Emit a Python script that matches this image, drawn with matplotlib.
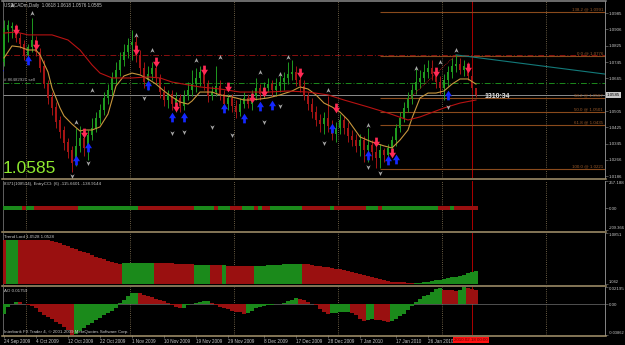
import numpy as np
import matplotlib
matplotlib.use("Agg")
import matplotlib.pyplot as plt
from matplotlib.path import Path
from matplotlib.lines import Line2D

plt.rcParams["font.family"] = ["Liberation Sans", "DejaVu Sans"]

# ---------------- data (prices in pips, 0.0001) ----------------
opens = [10745, 10902, 10912, 10922, 10863, 10833, 10780, 10819, 10853, 10794,
         10726, 10637, 10574, 10525, 10461, 10412, 10353, 10314, 10255, 10334,
         10373, 10324, 10388, 10422, 10471, 10510, 10569, 10608, 10667, 10706,
         10755, 10794, 10829, 10843, 10780, 10716, 10657, 10686, 10716, 10667,
         10598, 10559, 10588, 10539, 10569, 10530, 10579, 10608, 10637, 10667,
         10696, 10637, 10579, 10598, 10628, 10588, 10539, 10569, 10530, 10500,
         10539, 10569, 10539, 10579, 10618, 10588, 10618, 10637, 10608, 10628,
         10647, 10667, 10686, 10696, 10657, 10628, 10579, 10539, 10500, 10461,
         10441, 10471, 10431, 10392, 10422, 10461, 10422, 10383, 10363, 10334,
         10363, 10314, 10339, 10304, 10275, 10314, 10290, 10324, 10363, 10422,
         10471, 10520, 10569, 10608, 10647, 10667, 10696, 10716, 10686, 10647,
         10618, 10657, 10696, 10726, 10735, 10706, 10726, 10677, 10618]
highs = [10951, 10951, 10941, 10931, 10887, 10853, 10833, 10961, 10873, 10814,
         10755, 10657, 10598, 10549, 10481, 10431, 10373, 10334, 10422, 10431,
         10402, 10412, 10471, 10500, 10539, 10598, 10637, 10696, 10745, 10794,
         10833, 10863, 10902, 10873, 10804, 10745, 10726, 10745, 10735, 10686,
         10628, 10608, 10608, 10598, 10588, 10608, 10647, 10706, 10716, 10726,
         10716, 10657, 10628, 10726, 10657, 10608, 10588, 10588, 10559, 10569,
         10598, 10588, 10608, 10667, 10637, 10647, 10667, 10657, 10667, 10686,
         10696, 10745, 10755, 10726, 10677, 10657, 10598, 10569, 10530, 10490,
         10500, 10579, 10461, 10451, 10490, 10481, 10451, 10412, 10392, 10392,
         10383, 10422, 10363, 10334, 10343, 10324, 10343, 10383, 10441, 10500,
         10549, 10598, 10637, 10716, 10706, 10735, 10755, 10755, 10706, 10677,
         10686, 10726, 10765, 10780, 10765, 10755, 10745, 10706, 10618]
lows = [10726, 10843, 10863, 10843, 10814, 10755, 10745, 10794, 10775, 10696,
        10618, 10539, 10486, 10422, 10373, 10314, 10275, 10206, 10236, 10304,
        10285, 10265, 10363, 10402, 10441, 10486, 10539, 10579, 10637, 10677,
        10726, 10765, 10755, 10745, 10686, 10618, 10608, 10657, 10637, 10569,
        10530, 10520, 10510, 10500, 10500, 10510, 10559, 10579, 10598, 10628,
        10608, 10549, 10559, 10579, 10559, 10520, 10510, 10500, 10471, 10481,
        10520, 10520, 10510, 10559, 10559, 10569, 10598, 10579, 10579, 10598,
        10608, 10637, 10657, 10628, 10598, 10559, 10510, 10471, 10431, 10402,
        10392, 10402, 10363, 10353, 10392, 10392, 10353, 10334, 10304, 10285,
        10255, 10255, 10265, 10226, 10226, 10255, 10265, 10285, 10334, 10402,
        10451, 10500, 10539, 10588, 10618, 10647, 10667, 10657, 10618, 10588,
        10559, 10628, 10667, 10696, 10686, 10677, 10657, 10608, 10576]
closes = [10912, 10926, 10922, 10863, 10833, 10775, 10819, 10853, 10794, 10716,
          10637, 10569, 10520, 10451, 10402, 10348, 10304, 10250, 10334, 10373,
          10324, 10388, 10422, 10471, 10510, 10569, 10608, 10667, 10706, 10755,
          10794, 10829, 10843, 10780, 10716, 10647, 10686, 10716, 10667, 10598,
          10559, 10588, 10539, 10569, 10530, 10579, 10608, 10637, 10667, 10696,
          10637, 10579, 10598, 10628, 10588, 10539, 10569, 10530, 10500, 10539,
          10569, 10539, 10579, 10618, 10588, 10618, 10637, 10608, 10628, 10647,
          10667, 10686, 10696, 10657, 10628, 10579, 10539, 10500, 10461, 10441,
          10471, 10431, 10392, 10422, 10461, 10422, 10383, 10363, 10334, 10363,
          10314, 10339, 10304, 10275, 10314, 10290, 10324, 10363, 10422, 10471,
          10520, 10569, 10608, 10647, 10667, 10696, 10716, 10686, 10647, 10618,
          10657, 10696, 10726, 10735, 10706, 10726, 10677, 10618, 10585]

# moving averages (bar, pips)
fast_ma_bar = [0, 2, 4, 6, 8, 9, 11, 12, 14, 15, 17, 19, 20, 22, 24, 26, 28, 30, 32, 34,
               36, 38, 40, 42, 44, 46, 47, 49, 52, 54, 57, 60, 62, 66, 69, 72, 74, 76,
               78, 80, 82, 84, 86, 89, 92, 95, 97, 99, 101, 102, 104, 106, 108, 110,
               112, 114, 116, 118]
fast_ma = [10765, 10824, 10819, 10804, 10804, 10780, 10696, 10618, 10520, 10481, 10441,
           10407, 10412, 10412, 10427, 10490, 10628, 10677, 10691, 10682, 10662, 10637,
           10603, 10574, 10549, 10539, 10554, 10598, 10598, 10584, 10574, 10559, 10559,
           10569, 10584, 10603, 10623, 10613, 10584, 10544, 10525, 10500, 10461, 10378,
           10353, 10334, 10324, 10363, 10412, 10470, 10569, 10593, 10593, 10603, 10637,
           10662, 10662, 10637]
slow_ma_bar = [0, 3, 6, 12, 16, 19, 22, 24, 27, 32, 36, 39, 42, 46, 49, 54, 59, 66, 71,
               76, 81, 85, 91, 96, 101, 104, 110, 114, 118]
slow_ma = [10887, 10892, 10878, 10878, 10853, 10804, 10731, 10691, 10667, 10667, 10672,
           10667, 10647, 10633, 10623, 10613, 10598, 10598, 10603, 10598, 10584, 10559,
           10525, 10495, 10461, 10476, 10520, 10544, 10559]

# signal arrows and fractal marks (bar, pips)
sell_bar = [3, 8, 20, 33, 38, 43, 50, 56, 62, 65, 74, 83, 93, 97, 108, 116]
sell_px = [10902, 10829, 10397, 10804, 10745, 10525, 10706, 10623, 10569, 10598,
           10691, 10520, 10353, 10299, 10696, 10716]
buy_bar = [-1, 6, 18, 21, 36, 42, 45, 55, 60, 64, 67, 82, 91, 96, 98, 111]
buy_px = [10706, 10755, 10265, 10329, 10633, 10476, 10476, 10520, 10471, 10530,
          10535, 10422, 10290, 10265, 10270, 10584]
frac_up_bar = [2, 7, 18, 22, 33, 37, 48, 54, 64, 69, 71, 81, 91, 103, 109, 113]
frac_up_px = [11025, 10985, 10451, 10608, 10878, 10804, 10755, 10770, 10696, 10686,
              10770, 10608, 10436, 10716, 10745, 10804]
frac_dn_bar = [17, 21, 35, 42, 45, 52, 57, 65, 69, 80, 91, 94, 111]
frac_dn_px = [10187, 10250, 10569, 10397, 10402, 10427, 10388, 10451, 10530, 10348,
              10231, 10201, 10525]

# zigzag leg drawn dotted
zz_bar = [101, 113]
zz_px = [10560, 10780]

# fibonacci levels
fib_names = ["138.2", "0.0", "38.2", "50.0", "61.8", "100.0"]
fib_prices = [1.0991, 1.0776, 1.0567, 1.0501, 1.0435, 1.0221]
fib_start = 94

# indicator windows
cci_runs = [("g", 5), ("r", 1), ("g", 2), ("r", 11), ("g", 15), ("r", 14), ("g", 5),
            ("r", 1), ("g", 3), ("r", 3), ("g", 3), ("r", 1), ("g", 1), ("r", 2),
            ("g", 8), ("r", 7), ("g", 1), ("r", 8), ("g", 3), ("r", 1), ("g", 14),
            ("r", 3), ("g", 1), ("r", 6)]
trend_lord = [1.0792, 1.0792, 1.0792, 1.0792, 1.0792, 1.0792, 1.0792, 1.0792, 1.0792, 1.0792,
              1.0792, 1.0790, 1.0785, 1.0775, 1.0766, 1.0753, 1.0741, 1.0724, 1.0712, 1.0699,
              1.0690, 1.0678, 1.0668, 1.0652, 1.0640, 1.0628, 1.0612, 1.0603, 1.0597, 1.0592,
              1.0600, 1.0600, 1.0600, 1.0600, 1.0600, 1.0600, 1.0600, 1.0600, 1.0600, 1.0600,
              1.0597, 1.0597, 1.0595, 1.0593, 1.0591, 1.0589, 1.0589, 1.0589, 1.0581, 1.0581,
              1.0581, 1.0581, 1.0581, 1.0581, 1.0581, 1.0581, 1.0572, 1.0572, 1.0572, 1.0572,
              1.0572, 1.0572, 1.0572, 1.0572, 1.0573, 1.0575, 1.0577, 1.0579, 1.0581, 1.0583,
              1.0585, 1.0587, 1.0589, 1.0589, 1.0589, 1.0589, 1.0585, 1.0580, 1.0575, 1.0570,
              1.0566, 1.0560, 1.0555, 1.0550, 1.0545, 1.0538, 1.0530, 1.0522, 1.0513, 1.0505,
              1.0496, 1.0488, 1.0480, 1.0471, 1.0462, 1.0454, 1.0447, 1.0441, 1.0437, 1.0435,
              1.0433, 1.0432, 1.0431, 1.0428, 1.0432, 1.0436, 1.0440, 1.0445, 1.0450, 1.0456,
              1.0462, 1.0468, 1.0475, 1.0483, 1.0491, 1.0500, 1.0510, 1.0520, 1.0528]
tl_runs = [("r", 1), ("g", 3), ("r", 26), ("g", 8), ("r", 10), ("g", 4), ("r", 3),
           ("g", 1), ("r", 7), ("g", 12), ("r", 28), ("g", 16)]
ao = [-0.0117, -0.0036, 0.0010, 0.0030, 0.0025, 0.0010, -0.0005, -0.0020, -0.0050, -0.0090,
      -0.0130, -0.0160, -0.0190, -0.0220, -0.0250, -0.0280, -0.0320, -0.0385, -0.0370, -0.0340,
      -0.0300, -0.0260, -0.0230, -0.0200, -0.0170, -0.0140, -0.0110, -0.0080, -0.0040, 0.0020,
      0.0060, 0.0100, 0.0140, 0.0150, 0.0145, 0.0120, 0.0110, 0.0090, 0.0070, 0.0060,
      0.0040, 0.0020, -0.0010, -0.0030, -0.0050, -0.0040, -0.0010, 0.0010, 0.0020, 0.0030,
      0.0040, 0.0045, 0.0020, -0.0010, -0.0030, -0.0050, -0.0060, -0.0080, -0.0090, -0.0100,
      -0.0120, -0.0110, -0.0080, -0.0050, -0.0030, -0.0020, -0.0010, -0.0005, 0.0005, 0.0010,
      0.0020, 0.0040, 0.0060, 0.0075, 0.0070, 0.0050, 0.0030, 0.0010, -0.0010, -0.0060,
      -0.0100, -0.0120, -0.0110, -0.0105, -0.0100, -0.0095, -0.0090, -0.0110, -0.0140, -0.0180,
      -0.0210, -0.0200, -0.0190, -0.0195, -0.0200, -0.0210, -0.0220, -0.0210, -0.0180, -0.0150,
      -0.0120, -0.0070, -0.0020, 0.0030, 0.0070, 0.0100, 0.0120, 0.0160, 0.0190, 0.0205,
      0.0180, 0.0178, 0.0176, 0.0175, 0.0180, 0.0215, 0.0205, 0.0200, 0.0176]
ao_runs = [("g", 4), ("r", 14), ("g", 16), ("r", 11), ("g", 7), ("r", 9), ("g", 13),
           ("r", 8), ("g", 5), ("r", 4), ("g", 2), ("r", 4), ("g", 13), ("r", 4),
           ("g", 2), ("r", 3)]

date_bars = [0, 8, 16, 24, 32, 40, 48, 56, 65, 73, 81, 89, 98, 106]
date_labels = ["24 Sep 2009", "4 Oct 2009", "12 Oct 2009", "22 Oct 2009", "1 Nov 2009",
               "10 Nov 2009", "19 Nov 2009", "29 Nov 2009", "8 Dec 2009", "17 Dec 2009",
               "28 Dec 2009", "7 Jan 2010", "17 Jan 2010", "26 Jan 2010"]
grid_bars = [5.5, 31.5, 57.5, 83.5, 109.5, 135.5]
cursor_bar = 117

price_ticks = [1.0985, 1.0906, 1.0825, 1.0745, 1.0665, 1.0505, 1.0425, 1.0345, 1.0266, 1.0186]
bid = 1.0585
order_price = 1.0642
stop_price = 1.0780

# ---------------- styling ----------------
GREEN = "#1f9a1f"
RED = "#a51414"
HIST_G = "#1b8a1b"
HIST_R = "#9a1010"
TXT = "#c8c8c8"
SEP = "#a8966e"
COLS = {"g": HIST_G, "r": HIST_R}

W, H = 625, 345


def rect(x0, y0, x1, y1):
    return [x0 / W, 1 - y1 / H, (x1 - x0) / W, (y1 - y0) / H]


def expand(runs):
    return [COLS[c] for c, k in runs for _ in range(k)]


fig = plt.figure(figsize=(6.25, 3.45), dpi=100, facecolor="black")
ax = fig.add_axes(rect(3, 1, 605, 178))
ax_cci = fig.add_axes(rect(3, 181, 605, 230), sharex=ax)
ax_tl = fig.add_axes(rect(3, 233, 605, 284), sharex=ax)
ax_ao = fig.add_axes(rect(3, 287, 605, 335), sharex=ax)

for a in (ax, ax_cci, ax_tl, ax_ao):
    a.set_facecolor("black")
    for s in ("top", "bottom"):
        a.spines[s].set_visible(False)
    a.spines["left"].set_color("#6e6e6e")
    a.spines["right"].set_color("#9a9a9a")
    a.spines["left"].set_linewidth(0.6)
    a.spines["right"].set_linewidth(0.6)
    a.yaxis.tick_right()
    a.tick_params(axis="y", length=2, width=0.4, colors="#8a8a8a", labelcolor=TXT,
                  labelsize=3.2, pad=0.6)
    a.tick_params(axis="x", bottom=False, labelbottom=False)
    for g in grid_bars:
        a.axvline(g, color="#8c7b5a", lw=0.6, ls=(0, (1, 1.6)), zorder=1)
    a.axvline(cursor_bar, color="#c80000", lw=0.6, zorder=1)

ax.set_xlim(-0.25, 150.25)

# ---------------- main price window ----------------
n = len(closes)
idx = np.arange(n)
o = np.array(opens) / 1e4
h = np.array(highs) / 1e4
l = np.array(lows) / 1e4
c = np.array(closes) / 1e4
col = np.where(c >= o, GREEN, RED)
ax.vlines(idx, l, h, colors=col, lw=0.7, zorder=3)
body = np.maximum(np.abs(c - o), 0.0002)
ax.bar(idx, body, bottom=np.minimum(o, c), width=0.72, color=col, lw=0, zorder=4)

ax.plot(fast_ma_bar, np.array(fast_ma) / 1e4, color="#c8963c", lw=0.8, zorder=5)
ax.plot(slow_ma_bar, np.array(slow_ma) / 1e4, color="#b81212", lw=0.8, zorder=5)
ax.plot(zz_bar, np.array(zz_px) / 1e4, color="#c01818", lw=0.6, ls=(0, (1, 1.2)), zorder=5)

down_arrow = Path([(-0.28, 1.0), (0.28, 1.0), (0.28, 0.15), (0.72, 0.15), (0.0, -1.0),
                   (-0.72, 0.15), (-0.28, 0.15), (-0.28, 1.0)])
up_arrow = Path([(x, -y) for x, y in down_arrow.vertices])
up_chev = Path([(0, 1), (0.85, -0.9), (0, -0.35), (-0.85, -0.9), (0, 1)])
dn_chev = Path([(x, -y) for x, y in up_chev.vertices])

ax.plot(sell_bar, np.array(sell_px) / 1e4, ls="none", marker=down_arrow, ms=7,
        color="#ff2a55", mew=0, zorder=7)
ax.plot(buy_bar, np.array(buy_px) / 1e4, ls="none", marker=up_arrow, ms=7,
        color="#1428ff", mew=0, zorder=7)
ax.plot(frac_up_bar, np.array(frac_up_px) / 1e4, ls="none", marker=up_chev, ms=3.6,
        color="#a8a8a8", mew=0, zorder=6)
ax.plot(frac_dn_bar, np.array(frac_dn_px) / 1e4, ls="none", marker=dn_chev, ms=3.6,
        color="#a8a8a8", mew=0, zorder=6)

# objects: order, stop, bid, fibo, trend line
ax.axhline(stop_price, color="#8b1010", lw=0.7, ls=(0, (6, 2, 1, 2)), zorder=2)
ax.axhline(order_price, color="#1c8a1c", lw=0.7, ls=(0, (6, 2, 1, 2)), zorder=2)
ax.axhline(bid, color="#8c8c8c", lw=0.7, zorder=2)
ax.hlines(fib_prices, fib_start, 150.25, color="#8a4a1c", lw=0.8, zorder=2)
for name, p in zip(fib_names, fib_prices):
    ax.text(149.8, p + 0.0003, f"{name} @ {p:.4f}", color="#9a5a2a", fontsize=3.2,
            ha="right", va="bottom", zorder=8)
ax.plot([113, 150.25], [1.0780, 1.0686], color="#137a7a", lw=0.8, zorder=2)

ax.set_ylim(1.01768, 1.10441)
ax.set_yticks(price_ticks)
ax.set_yticklabels([f"{t:.4f}" for t in price_ticks])
ax.text(1.003, bid, f"{bid:.4f}", transform=ax.get_yaxis_transform(), fontsize=3.2,
        color="black", va="center", ha="left",
        bbox=dict(boxstyle="square,pad=0.25", fc="#c8c8c8", ec="none"))

fig.text(4 / W, 1 - 5 / H, "USDCADm,Daily  1.0618 1.0618 1.0576 1.0585", color=TXT,
         fontsize=3.3, va="center")
fig.text(4 / W, 1 - 80 / H, "# 86482921 sell", color="#b0b0b0", fontsize=3.2, va="center")
fig.text(3 / W, 1 - 173 / H, "1.0585", color="#8fea2f", fontsize=12.5, va="baseline")
fig.text(485 / W, 1 - 97 / H, "1310:34", color="#e6e6e6", fontsize=5, weight="bold",
         va="center")

# ---------------- CCI strip ----------------
ax_cci.bar(idx, 38, bottom=-19, width=1.0, color=expand(cci_runs), lw=0, zorder=3)
ax_cci.set_ylim(-209.366, 257.188)
ax_cci.set_yticks([257.188, 0, -209.366])
ax_cci.set_yticklabels(["257.188", "0.00", "-209.366"])
fig.text(4 / W, 1 - 184 / H, "8371(108514), EntryCCI: (6) -115.6601 -138.9144", color=TXT,
         fontsize=3.2, va="center")

# ---------------- Trend Lord ----------------
ax_tl.bar(idx, np.array(trend_lord) - 1.0, bottom=1.0, width=0.8, color=expand(tl_runs),
          lw=0, zorder=3)
ax_tl.set_ylim(1.042, 1.0851)
ax_tl.set_yticks([1.0851, 1.042])
ax_tl.set_yticklabels(["1.0851", "1.042"])
fig.text(4 / W, 1 - 237 / H, "Trend Lord 1.0528 1.0528", color=TXT, fontsize=3.2,
         va="center")

# ---------------- AO ----------------
ax_ao.bar(idx, ao, width=0.8, color=expand(ao_runs), lw=0, zorder=3)
ax_ao.axhline(0, color="#707070", lw=0.5, zorder=2)
ax_ao.set_ylim(-0.03862, 0.02195)
ax_ao.set_yticks([0.02195, 0, -0.03862])
ax_ao.set_yticklabels(["0.02195", "0.00", "-0.03862"])
fig.text(4 / W, 1 - 291 / H, "AO 0.01759", color=TXT, fontsize=3.2, va="center")
fig.text(4 / W, 1 - 332 / H, "Interbank FX Trader 4, \u00a9 2001-2009 MetaQuotes Software Corp.",
         color=TXT, fontsize=3.2, va="center")

ax_ao.tick_params(axis="x", bottom=True, labelbottom=True, length=2, width=0.4,
                  colors="#8a8a8a", labelcolor=TXT, labelsize=3.3, pad=1)
ax_ao.set_xticks(date_bars)
ax_ao.set_xticklabels(date_labels, ha="left")

for a in (ax_cci, ax_tl, ax_ao):
    labs = a.get_yticklabels()
    labs[0].set_va("top")
    labs[-1].set_va("bottom")
    labs[-1].set_fontsize(2.9)

fig.text(471 / W, 1 - 340 / H, "2010.02.18 00:00", color="#5a0000", fontsize=3.2,
         ha="center", va="center",
         bbox=dict(boxstyle="square,pad=0.3", fc="#ff1010", ec="none"))

# panel separators
for y, colr in [(1, "#8a8a8a"), (179.5, SEP), (231.5, SEP), (285.5, SEP), (336, SEP)]:
    fig.add_artist(Line2D([2 / W, 606 / W], [1 - y / H, 1 - y / H], color=colr, lw=1.1))

fig.savefig("out.png", dpi=100, facecolor="black")
